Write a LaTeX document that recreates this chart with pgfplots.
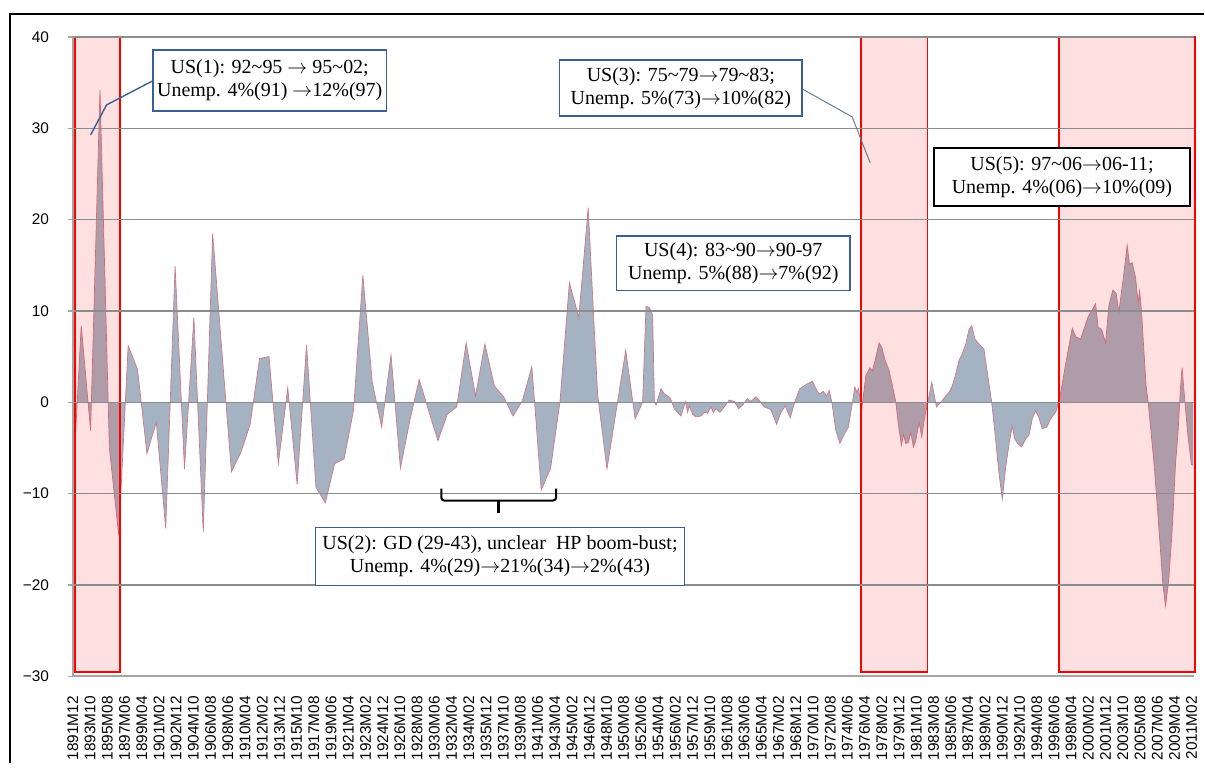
\documentclass[border=0pt]{standalone}
\usepackage{pgfplots}
\usepackage{pgfplotstable}
\pgfplotsset{compat=1.18}
\usepackage{fontspec}
\setmainfont{Liberation Serif}
\newfontfamily\axisfont{Liberation Sans}
\definecolor{areafill}{RGB}{164,178,193}
\definecolor{areaedge}{RGB}{205,120,135}
\definecolor{gridc}{RGB}{140,140,140}
\definecolor{axc}{RGB}{165,165,165}
\definecolor{boxblue}{RGB}{60,95,145}
\definecolor{leadc}{RGB}{105,125,150}
\newcommand{\ra}{\ensuremath{\rightarrow}}
\pgfplotstableread{
x y
1891.92 -9
1892.8 8.4
1893.8 -3.1
1894.8 34.2
1895.8 -5.0
1896.8 -14.6
1897.8 6.2
1898.8 3.6
1899.8 -5.6
1900.8 -2.2
1901.8 -13.8
1902.8 14.9
1903.8 -7.3
1904.8 9.3
1905.8 -14.2
1906.8 18.5
1907.8 5.4
1908.8 -7.6
1909.8 -5.5
1910.8 -2.4
1911.8 4.8
1912.8 5.0
1913.8 -6.7
1914.8 1.6
1915.8 -9.0
1916.8 6.3
1917.8 -9.3
1918.8 -11.0
1919.8 -6.7
1920.8 -6.2
1921.8 -0.9
1922.8 13.9
1923.8 2.2
1924.8 -2.7
1925.8 5.2
1926.8 -7.2
1927.8 -2.0
1928.8 2.5
1929.8 -0.9
1930.8 -4.2
1931.8 -1.3
1932.8 -0.5
1933.8 6.5
1934.8 0.7
1935.8 6.4
1936.8 1.8
1937.8 0.6
1938.8 -1.5
1939.8 0.2
1940.8 3.9
1941.8 -9.6
1942.8 -7.2
1943.8 0.1
1944.8 13.1
1945.8 9.3
1946.8 21.3
1947.8 0.9
1948.8 -7.3
1949.8 -0.8
1950.8 5.7
1951.8 -1.8
1952.6 0
1952.96 10.5
1953.31 10.4
1953.67 9.5
1953.85 0
1954.03 -0.3
1954.56 1.5
1954.92 0.9
1955.27 0.7
1955.52 0.5
1955.98 -0.7
1956.69 -1.5
1957.15 0.1
1957.39 -1.1
1957.57 -0.4
1957.92 -1.3
1958.28 -1.6
1958.81 -1.5
1959.16 -1.1
1959.52 -1.2
1959.88 -0.5
1960.12 -1.1
1960.41 -0.7
1960.83 -1.1
1961.30 -0.5
1961.83 0.25
1962.36 0.1
1962.82 -0.7
1963.24 -0.3
1963.77 0.4
1964.13 0.1
1964.67 0.6
1965.02 0.2
1965.55 -0.5
1966.26 -0.8
1966.86 -2.4
1967.33 -1.1
1967.79 -0.4
1968.32 -1.7
1968.85 0.2
1969.35 1.5
1969.81 1.8
1970.27 2.1
1970.69 2.3
1971.05 1.5
1971.41 0.9
1971.86 1.2
1972.18 0.7
1972.47 1.3
1972.76 0
1973.18 -3.1
1973.61 -4.5
1974.07 -3.5
1974.52 -2.7
1974.95 0
1975.20 1.7
1975.42 1.1
1975.59 1.5
1975.95 -0.7
1976.37 2.9
1976.80 3.8
1977.08 3.5
1977.36 4.6
1977.79 6.5
1978.08 6.0
1978.43 4.6
1978.85 3.5
1979.21 1.8
1979.57 0
1979.84 -2.4
1980.16 -4.7
1980.38 -3.5
1980.63 -4.5
1980.91 -4.4
1981.16 -3.3
1981.44 -4.9
1981.69 -4.2
1982.05 -2.2
1982.33 -3.8
1982.58 -2.0
1982.93 -0.2
1983.40 2.2
1983.64 0.9
1983.89 -0.5
1984.35 0
1984.89 0.7
1985.24 1.1
1985.59 1.8
1985.95 3.1
1986.30 4.6
1986.65 5.3
1987.02 6.4
1987.37 8.0
1987.65 8.4
1988.00 6.9
1988.43 6.4
1988.96 5.8
1989.31 3.3
1989.78 0
1990.21 -4.2
1990.56 -7.8
1990.91 -10.6
1991.27 -7.1
1991.62 -4.6
1991.97 -2.6
1992.23 -4.0
1992.61 -4.6
1992.97 -4.9
1993.40 -4.0
1993.75 -3.6
1994.10 -1.8
1994.46 -0.9
1994.81 -1.7
1995.17 -2.9
1995.67 -2.7
1996.06 -1.8
1996.59 -1.1
1996.94 0
1997.29 2.0
1997.66 4.2
1998.01 6.2
1998.36 8.1
1998.72 7.2
1999.25 6.9
1999.60 8.0
2000.06 9.4
2000.42 10.0
2000.85 10.8
2001.12 8.2
2001.49 8.0
2001.91 6.5
2002.26 10.6
2002.69 12.3
2003.04 11.9
2003.33 9.9
2003.86 14.1
2004.21 17.2
2004.46 15.1
2004.74 15.3
2005.10 13.7
2005.38 10.9
2005.53 12.2
2005.74 10.0
2005.99 5.7
2006.23 1.8
2006.45 0
2006.70 -2.7
2007.05 -6.4
2007.40 -11.1
2007.76 -16.2
2008.01 -19.9
2008.30 -22.3
2008.65 -19.3
2009.00 -14.1
2009.36 -6.8
2009.64 -3.1
2009.89 1.6
2010.06 3.8
2010.35 0.2
2010.70 -3.8
2011.06 -6.8
2011.23 -6.9
}\datatable
\begin{document}
\begin{tikzpicture}
\begin{scope}[x=0.5pt,y=-0.5pt]
\path[use as bounding box] (0,0) rectangle (1205,764);
\end{scope}
\begin{axis}[
  at={(36.5pt,-338.5pt)}, anchor=south west,
  scale only axis, width=561pt, height=320pt,
  xmin=1891.917, xmax=2011.31, ymin=-30, ymax=40,
  axis x line*=bottom, axis y line*=left,
  axis line style={axc, line width=0.9pt},
  clip=false, axis on top,
  ymajorgrids, grid style={gridc, line width=0.6pt},
  ytick={-30,-20,-10,0,10,20,30,40},
  yticklabels={−30,−20,−10,0,10,20,30,40},
  xtick={1891.91667,1893.75,...,2011.1},
  xticklabels={1891M12,1893M10,1895M08,1897M06,1899M04,1901M02,1902M12,1904M10,1906M08,1908M06,1910M04,1912M02,1913M12,1915M10,1917M08,1919M06,1921M04,1923M02,1924M12,1926M10,1928M08,1930M06,1932M04,1934M02,1935M12,1937M10,1939M08,1941M06,1943M04,1945M02,1946M12,1948M10,1950M08,1952M06,1954M04,1956M02,1957M12,1959M10,1961M08,1963M06,1965M04,1967M02,1968M12,1970M10,1972M08,1974M06,1976M04,1978M02,1979M12,1981M10,1983M08,1985M06,1987M04,1989M02,1990M12,1992M10,1994M08,1996M06,1998M04,2000M02,2001M12,2003M10,2005M08,2007M06,2009M04,2011M02},
  tick align=outside, major tick length=2.5pt,
  ytick style={axc, line width=0.6pt},
  xtick style={draw=none},
  ticklabel style={font=\axisfont\fontsize{7.7}{8}\selectfont, text=black},
  yticklabel style={xshift=-6pt},
  xticklabel style={yshift=-4pt, rotate=90, anchor=east},
]
\addplot[draw=none, fill=areafill] table[x=x,y=y]{\datatable} \closedcycle;
\addplot[areaedge, line width=0.35pt] table[x=x,y=y]{\datatable};
\fill[red, opacity=0.12] (axis cs:1892.13,-29.5) rectangle (axis cs:1896.92,40);
\draw[red, line width=0.9pt] (axis cs:1892.13,-29.5) rectangle (axis cs:1896.92,40);
\fill[red, opacity=0.12] (axis cs:1975.85,-29.5) rectangle (axis cs:1982.95,40);
\draw[red, line width=0.9pt] (axis cs:1975.85,-29.5) rectangle (axis cs:1982.95,40);
\fill[red, opacity=0.12] (axis cs:1996.94,-29.5) rectangle (axis cs:2011.42,40);
\draw[red, line width=0.9pt] (axis cs:1996.94,-29.5) rectangle (axis cs:2011.42,40);
\end{axis}
\begin{scope}[x=0.5pt,y=-0.5pt]
\draw[black, line width=1.2pt] (10,764) -- (10,14) -- (1205,14);
\draw[boxblue, line width=0.7pt] (153.3,80.7) -- (106.7,105) -- (90.7,135);
\draw[leadc, line width=0.5pt] (803,89) -- (853,117) -- (871,163);
\draw[black, line width=1pt, rounded corners=1.5pt] (441.7,489) -- (441.7,501) -- (556.7,501) -- (556.7,489);
\draw[black, line width=1.2pt] (499,501) -- (499,514);
\tikzset{box/.style={line width=0.75pt, fill=white, inner sep=0pt, align=center, font=\fontsize{10}{11.5}\selectfont}}
\node[box, draw=boxblue, minimum width=117pt, minimum height=30.5pt] at (270,80.5)
  {US(1): 92\textasciitilde95 \ra{} 95\textasciitilde02;\\Unemp. 4\%(91) \ra12\%(97)};
\node[box, draw=boxblue, minimum width=121.5pt, minimum height=28pt] at (681.5,88)
  {US(3): 75\textasciitilde79\ra79\textasciitilde83;\\Unemp. 5\%(73)\ra10\%(82)};
\node[box, draw=black, minimum width=128pt, minimum height=29pt] at (1063,177)
  {US(5): 97\textasciitilde06\ra06-11;\\Unemp. 4\%(06)\ra10\%(09)};
\node[box, draw=boxblue, minimum width=117pt, minimum height=27.5pt] at (734,263.5)
  {US(4): 83\textasciitilde90\ra90-97\\Unemp. 5\%(88)\ra7\%(92)};
\node[box, draw=boxblue, minimum width=184.5pt, minimum height=29pt] at (500.5,557)
  {US(2): GD (29-43), unclear\ \ HP boom-bust;\\Unemp. 4\%(29)\ra21\%(34)\ra2\%(43)};
\end{scope}
\end{tikzpicture}
\end{document}
